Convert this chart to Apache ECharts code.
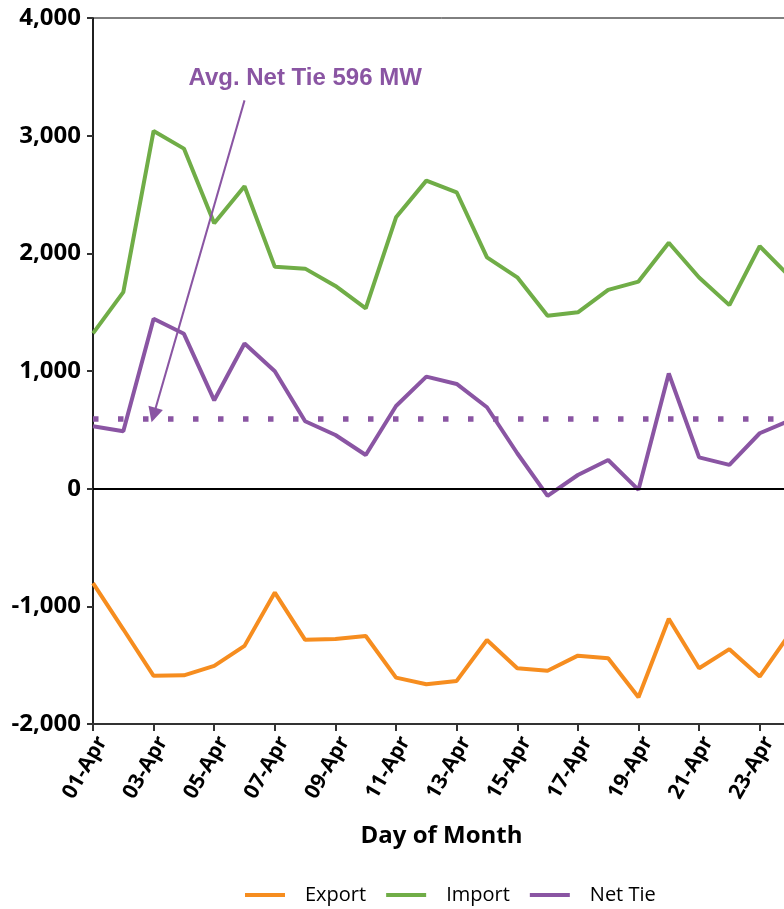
<!DOCTYPE html>
<html>
<head>
<meta charset="utf-8">
<script src="https://cdn.jsdelivr.net/npm/echarts@6/dist/echarts.min.js"></script>
<style>
  html, body { margin: 0; padding: 0; overflow: hidden; background: #fff; }
  #chart { width: 800px; height: 909px; }
</style>
</head>
<body>
<div id="chart"></div>
<script>
  // day categories (only the visible part of the month)
  const days = ['01-Apr', '02-Apr', '03-Apr', '04-Apr', '05-Apr', '06-Apr', '07-Apr', '08-Apr',
    '09-Apr', '10-Apr', '11-Apr', '12-Apr', '13-Apr', '14-Apr', '15-Apr', '16-Apr',
    '17-Apr', '18-Apr', '19-Apr', '20-Apr', '21-Apr', '22-Apr', '23-Apr', '24-Apr'];

  const exportMW = [-803, -1195, -1591, -1586, -1506, -1336, -883, -1285, -1277, -1252, -1606, -1662,
    -1634, -1286, -1526, -1547, -1419, -1441, -1773, -1106, -1526, -1364, -1597, -1230];
  const importMW = [1320, 1670, 3040, 2890, 2255, 2570, 1885, 1870, 1723, 1533, 2306, 2618,
    2519, 1966, 1796, 1470, 1499, 1689, 1760, 2090, 1795, 1560, 2060, 1800];
  const netTieMW = [530, 488, 1444, 1316, 751, 1234, 998, 573, 456, 286, 703, 952,
    890, 692, 301, -62, 116, 244, -10, 979, 266, 202, 471, 580];

  const avgNetTie = 596;
  const yTicks = { min: -2000, max: 4000, step: 1000 };

  const colors = { export: '#F68D1F', import: '#70AD47', net: '#8A55A3' };

  const chart = echarts.init(document.getElementById('chart'));

  const option = {
    animation: false,
    color: [colors.export, colors.import, colors.net],
    grid: {
      left: 93,
      right: 10,
      top: 18,
      bottom: 185,
      show: true,
      borderColor: '#000',
      borderWidth: 1,
    },
    legend: {
      data: ['Export', 'Import', 'Net Tie'],
      left: 240,
      top: 880,
      icon: 'rect',
      itemWidth: 40,
      itemHeight: 4,
      itemGap: 20,
      textStyle: {
        fontFamily: 'Open Sans',
        fontSize: 20,
        color: '#000',
        padding: [0, 0, 0, 15],
      },
    },
    xAxis: {
      type: 'category',
      data: days,
      boundaryGap: false,
      name: 'Day of Month',
      nameLocation: 'middle',
      nameGap: 100,
      nameTextStyle: {
        fontFamily: 'Open Sans',
        fontWeight: 'bold',
        fontSize: 24,
        color: '#000',
      },
      axisLine: { onZero: false, lineStyle: { color: '#333', width: 2 } },
      axisTick: { interval: 1, length: 7, lineStyle: { color: '#333', width: 2 } },
      axisLabel: {
        interval: 1,
        rotate: 60,
        margin: 9,
        verticalAlign: 'top',
        fontFamily: 'Open Sans',
        fontWeight: 'bold',
        fontSize: 21,
        color: '#000',
      },
      splitLine: { show: false },
    },
    yAxis: {
      type: 'value',
      min: yTicks.min,
      max: yTicks.max,
      interval: yTicks.step,
      axisLine: { show: true, lineStyle: { color: '#000', width: 1.5 } },
      axisTick: { show: true, length: 6, lineStyle: { color: '#333', width: 2 } },
      axisLabel: {
        margin: 12,
        fontFamily: 'Open Sans',
        fontWeight: 'bold',
        fontSize: 24,
        color: '#000',
        formatter: (v) => v.toLocaleString('en-US'),
      },
      splitLine: { show: false },
    },
    series: [
      {
        name: 'Export',
        type: 'line',
        data: exportMW,
        showSymbol: false,
        lineStyle: { width: 4, color: colors.export },
        z: 3,
      },
      {
        name: 'Import',
        type: 'line',
        data: importMW,
        showSymbol: false,
        lineStyle: { width: 4, color: colors.import },
        z: 3,
      },
      {
        name: 'Net Tie',
        type: 'line',
        data: netTieMW,
        showSymbol: false,
        lineStyle: { width: 4, color: colors.net },
        z: 3,
        markLine: {
          silent: true,
          symbol: ['none', 'none'],
          label: { show: false },
          data: [
            // zero line
            { yAxis: 0, lineStyle: { color: '#000', width: 2, type: 'solid' } },
            // average net tie, dotted
            { yAxis: avgNetTie, lineStyle: { color: colors.net, width: 5.5, type: [5.5, 19.5], cap: 'butt' } },
            // annotation arrow
            [
              { coord: ['06-Apr', 3300], symbol: 'none' },
              { coord: ['03-Apr', 625], symbol: 'triangle', symbolSize: 15,
                lineStyle: { color: colors.net, width: 2, type: 'solid' } },
            ],
          ],
        },
        markPoint: {
          silent: true,
          symbolSize: 0,
          data: [
            {
              coord: ['08-Apr', 3485],
              label: {
                show: true,
                position: 'inside',
                formatter: 'Avg. Net Tie ' + avgNetTie + ' MW',
                fontFamily: 'Liberation Sans',
                fontWeight: 'bold',
                fontSize: 24,
                color: colors.net,
              },
            },
          ],
        },
      },
    ],
  };

  chart.setOption(option);
</script>
</body>
</html>
